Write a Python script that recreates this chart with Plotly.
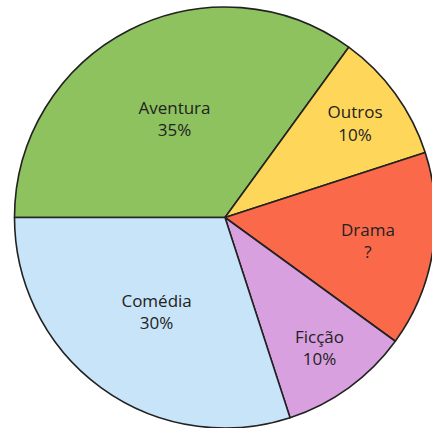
import plotly.graph_objects as go

categories = ["Aventura", "Outros", "Drama", "Ficção", "Comédia"]
values = [35, 10, 15, 10, 30]
shown = ["35%", "10%", "?", "10%", "30%"]
colors = ["#8DC25E", "#FDD65A", "#FA6A4A", "#D9A0E0", "#C8E4F8"]

texts = [f"{c}<br>{s}" for c, s in zip(categories, shown)]

fig = go.Figure(go.Pie(
    labels=categories,
    values=values,
    text=texts,
    textinfo="text",
    hoverinfo="label+value",
    sort=False,
    direction="clockwise",
    rotation=270,
    marker=dict(colors=colors, line=dict(color="#222222", width=1.6)),
    textposition="inside",
    insidetextorientation="horizontal",
    textfont=dict(family="Open Sans", size=17, color="#222222"),
    showlegend=False,
    domain=dict(x=[0, 1], y=[0, 1]),
))

fig.update_layout(
    width=436, height=428,
    margin=dict(l=14, r=0, t=7, b=0),
    paper_bgcolor="white",
    uniformtext=dict(minsize=17, mode="show"),
)

fig.write_html(
    "out.html",
    config={"displayModeBar": False},
    post_script="document.body.style.margin='0';document.body.style.overflow='hidden';",
)
